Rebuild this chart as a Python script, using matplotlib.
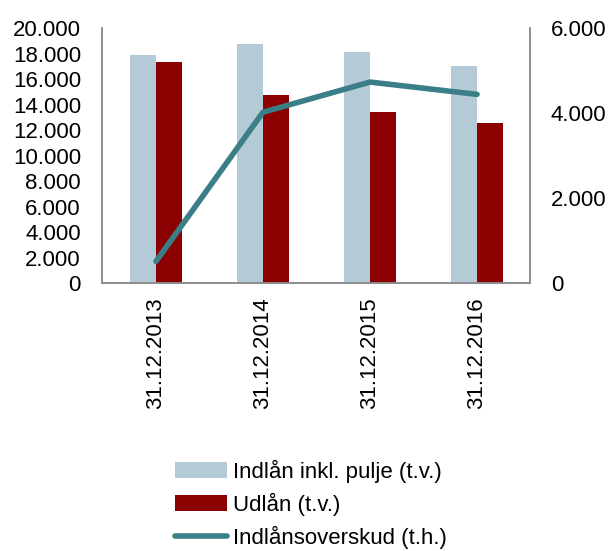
import matplotlib.pyplot as plt
import numpy as np

plt.rcParams['font.family'] = ['Liberation Sans', 'DejaVu Sans']

dates = ['31.12.2013', '31.12.2014', '31.12.2015', '31.12.2016']
indlaan = [17900, 18790, 18110, 17010]
udlaan = [17375, 14780, 13400, 12530]
overskud = [510, 4020, 4730, 4440]

c_blue = '#b4cad6'
c_red = '#8b0000'
c_line = '#3a7f87'
c_spine = '#8c8c8c'
fs = 16

fig = plt.figure(figsize=(6.09, 5.51), dpi=100)
ax = fig.add_axes([0.1683, 0.4864, 0.7028, 0.4626])
ax2 = ax.twinx()

x = np.arange(len(dates))
w = 0.243
b1 = ax.bar(x - w / 2, indlaan, w, color=c_blue, label='Indlån inkl. pulje (t.v.)')
b2 = ax.bar(x + w / 2, udlaan, w, color=c_red, label='Udlån (t.v.)')
l1, = ax2.plot(x, overskud, color=c_line, lw=4, solid_capstyle='round',
               label='Indlånsoverskud (t.h.)')

ax.set_xlim(-0.5, 3.5)
ax.set_ylim(0, 20000)
ax2.set_ylim(0, 6000)
ax.set_yticks(np.arange(0, 20001, 2000))
ax2.set_yticks(np.arange(0, 6001, 2000))

def fmt(v):
    return f'{int(v):,}'.replace(',', '.')

ax.set_yticklabels([fmt(v) for v in np.arange(0, 20001, 2000)], fontsize=fs)
ax2.set_yticklabels([fmt(v) for v in np.arange(0, 6001, 2000)], fontsize=fs)
ax.set_xticks(x)
ax.set_xticklabels(dates, rotation=90, fontsize=fs)

for a in (ax, ax2):
    a.spines['top'].set_visible(False)
    for s in ('left', 'right', 'bottom'):
        a.spines[s].set_color(c_spine)
        a.spines[s].set_linewidth(1.2)
    a.tick_params(length=0, colors='black')
ax.tick_params(axis='y', pad=15.5)
ax2.tick_params(axis='y', pad=14.5)
ax.tick_params(axis='x', pad=10.5)

fig.legend([b1, b2, l1], [b1.get_label(), b2.get_label(), l1.get_label()],
           loc='upper left', bbox_to_anchor=(0.287, 0.166), frameon=False,
           fontsize=fs, handlelength=2.35, handletextpad=0.25, labelspacing=0.45,
           borderaxespad=0, borderpad=0)

fig.savefig('out.png', dpi=100)
